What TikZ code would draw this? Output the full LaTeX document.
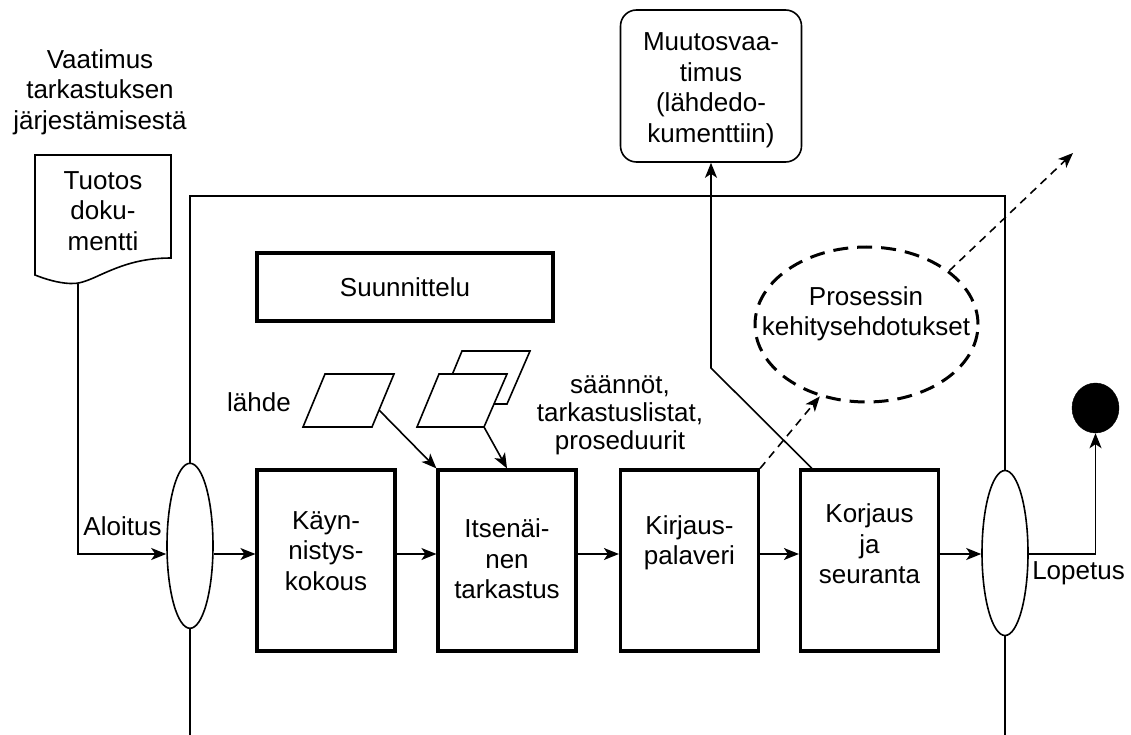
\documentclass[tikz,border=0pt]{standalone}
\usepackage{fontspec}
\setmainfont{Liberation Sans}
\usetikzlibrary{arrows.meta,shapes.geometric,calc}
\begin{document}
\begin{tikzpicture}[x=1pt,y=-1pt,
  thinl/.style={line width=1.6pt},
  arr/.style={thinl,-{Stealth[length=15pt,width=12pt,inset=4pt]}},
  darr/.style={arr,dash pattern=on 8pt off 6pt},
  pbox/.style={draw,fill=white,line width=3.2pt,minimum width=138pt,minimum height=181pt,inner sep=0pt},
  txt/.style={font=\fontsize{26}{30.5}\selectfont,align=center,inner sep=0pt},
  ell/.style={draw,thinl,ellipse,fill=white,minimum width=46pt,minimum height=165pt,inner sep=0pt},
]
\useasboundingbox (0,0) rectangle (1131,735);
% frame
\draw[thinl] (190,735) -- (190,196) -- (1005,196) -- (1005,735);
% coordinates
\coordinate (ay) at (0,554);
\coordinate (yk) at (0,368);
\coordinate (docb) at (78,283.5);
\coordinate (p1r) at (379,410);
\coordinate (p2r) at (484,427);
\coordinate (dend) at (1073,153);
% document shape
\draw[thinl,fill=white] (35,275) -- (35,155) -- (171,155) -- (171,258)
  .. controls (140,258) and (120,266) .. (100,275)
  .. controls (85,282) and (78,284) .. (70,283.5)
  .. controls (58,283) and (45,279) .. (35,275) -- cycle;
\node[txt] (dt) at (103,211) {Tuotos\\doku-\\mentti};
\node[txt] (vt) at (100,92) {Vaatimus\\tarkastuksen\\järjestämisestä};
% ellipses
\node[ell] (e1) at (190,545.8) {};
\node[ell] (e2) at (1005,553) {};
% process boxes
\node[pbox] (k1) at (326,560.5) {};
\node[pbox] (k2) at (507,560.5) {};
\node[pbox] (k3) at (689.5,560.5) {};
\node[pbox] (k4) at (869.5,560.5) {};
\node[txt] (t1) at (326,551) {Käyn-\\nistys-\\kokous};
\node[txt] (t2) at (507,559) {Itsenäi-\\nen\\tarkastus};
\node[txt] (t3) at (689.5,543) {Kirjaus-\\palaveri};
\node[txt] (t4) at (869.5,544) {Korjaus\\ja\\seuranta};
% planning box
\node[draw,line width=3.2pt,minimum width=296pt,minimum height=68pt,txt] (su) at (405,287) {Suunnittelu};
% parallelograms
\draw[thinl,fill=white] (440,404) -- (507,404) -- (530,351) -- (462,351) -- cycle;
\draw[thinl,fill=white] (417,427) -- (484,427) -- (507,374) -- (439,374) -- cycle;
\draw[thinl,fill=white] (303,427) -- (372,427) -- (394,374) -- (325,374) -- cycle;
\node[txt] (lt) at (259,402) {lähde};
\node[txt,font=\fontsize{26}{28}\selectfont] (st) at (620,415) {säännöt,\\tarkastuslistat,\\proseduurit};
% change request box
\node[draw,thinl,rounded corners=16pt,minimum width=181pt,minimum height=152pt] (mv) at (711,86) {};
\node[txt] (mvt) at (711,90) {Muutosvaa-\\timus\\(lähdedo-\\kumenttiin)};
% improvement ellipse
\node[draw,ellipse,line width=3pt,dash pattern=on 15pt off 9pt,minimum width=223pt,minimum height=155pt,inner sep=0pt] (pe) at (866.5,324.5) {};
\node[txt] (pet) at (866,314) {Prosessin\\kehitysehdotukset};
% end circle
\node[draw,fill=black,ellipse,minimum width=47pt,minimum height=50pt,inner sep=0pt] (blk) at (1095.5,408) {};
% labels
\node[txt] (al) at (122.5,526) {Aloitus};
\node[txt] (lo) at (1078.5,573) {Lopetus};
% connectors
\coordinate (kc) at ($(k4.north west)+(13,0)$);
\coordinate (cm) at (mv.south |- yk);
\draw[arr] (docb) |- (e1.west |- ay);
\draw[arr] (e1.east |- ay) -- (k1.west |- ay);
\draw[arr] (k1.east |- ay) -- (k2.west |- ay);
\draw[arr] (k2.east |- ay) -- (k3.west |- ay);
\draw[arr] (k3.east |- ay) -- (k4.west |- ay);
\draw[arr] (k4.east |- ay) -- (e2.west |- ay);
\draw[arr] (e2.east |- ay) -| (blk.south);
\draw[arr] (p1r) -- (k2.north west);
\draw[arr] (p2r) -- (k2.north);
\draw[arr] (kc) -- (cm) -- (mv.south);
\draw[darr] (k3.north east) -- (pe.237);
\draw[darr] (pe.33) -- (dend);
\end{tikzpicture}
\end{document}
